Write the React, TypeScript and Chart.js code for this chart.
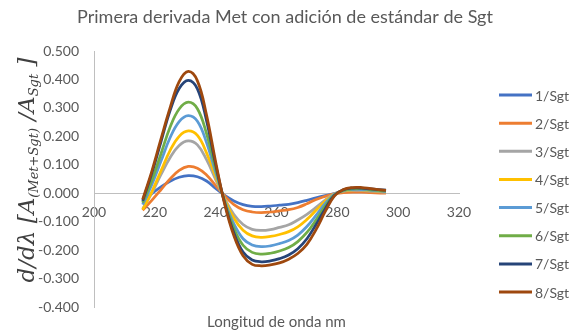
import { useEffect, useRef } from 'react';
import { Chart, registerables } from 'chart.js';

Chart.register(...registerables);

const titleText = 'Primera derivada Met con adición de estándar de Sgt';
const xAxisTitle = 'Longitud de onda nm';

const wavelengths = [216, 219, 222, 225, 228, 231, 234, 237, 240, 243, 246, 249, 252, 255, 258, 261, 264, 267, 270, 273, 276, 279, 282, 285, 288, 291, 296];

const seriesNames = ['1/Sgt', '2/Sgt', '3/Sgt', '4/Sgt', '5/Sgt', '6/Sgt', '7/Sgt', '8/Sgt'];
const seriesColors = ['#4472C4', '#ED7D31', '#A5A5A5', '#FFC000', '#5B9BD5', '#70AD47', '#264478', '#9E480E'];

const s1 = [-0.035, -0.002, 0.022, 0.042, 0.056, 0.062, 0.058, 0.043, 0.017, -0.008, -0.027, -0.040, -0.046, -0.047, -0.045, -0.042, -0.039, -0.033, -0.025, -0.016, -0.008, -0.001, 0.005, 0.008, 0.008, 0.006, 0.004];
const s2 = [-0.060, -0.025, 0.012, 0.050, 0.080, 0.094, 0.088, 0.064, 0.027, -0.010, -0.040, -0.058, -0.066, -0.068, -0.066, -0.062, -0.058, -0.050, -0.037, -0.022, -0.011, -0.002, 0.002, 0.004, 0.004, 0.002, 0.000];
const s3 = [-0.055, 0.000, 0.065, 0.125, 0.168, 0.184, 0.170, 0.118, 0.048, -0.020, -0.075, -0.110, -0.127, -0.131, -0.128, -0.120, -0.111, -0.094, -0.074, -0.050, -0.024, -0.002, 0.007, 0.010, 0.010, 0.007, 0.004];
const s4 = [-0.058, 0.005, 0.078, 0.150, 0.200, 0.219, 0.203, 0.142, 0.058, -0.022, -0.088, -0.130, -0.150, -0.155, -0.152, -0.145, -0.135, -0.118, -0.092, -0.060, -0.028, -0.003, 0.008, 0.012, 0.012, 0.009, 0.005];
const s5 = [-0.040, 0.030, 0.112, 0.195, 0.252, 0.273, 0.253, 0.178, 0.072, -0.028, -0.108, -0.160, -0.182, -0.188, -0.185, -0.177, -0.166, -0.147, -0.117, -0.078, -0.036, -0.004, 0.009, 0.013, 0.013, 0.010, 0.006];
const s6 = [-0.033, 0.045, 0.138, 0.232, 0.296, 0.320, 0.297, 0.210, 0.085, -0.032, -0.124, -0.183, -0.208, -0.214, -0.211, -0.203, -0.191, -0.170, -0.138, -0.094, -0.045, -0.006, 0.010, 0.015, 0.016, 0.012, 0.008];
const s7 = [-0.027, 0.070, 0.180, 0.290, 0.368, 0.397, 0.367, 0.255, 0.100, -0.036, -0.140, -0.207, -0.235, -0.241, -0.238, -0.230, -0.217, -0.195, -0.160, -0.110, -0.055, -0.008, 0.012, 0.018, 0.018, 0.015, 0.011];
const s8 = [-0.022, 0.077, 0.190, 0.300, 0.392, 0.428, 0.395, 0.275, 0.110, -0.040, -0.150, -0.220, -0.250, -0.255, -0.252, -0.245, -0.232, -0.212, -0.180, -0.128, -0.065, -0.010, 0.013, 0.020, 0.020, 0.016, 0.010];

const seriesValues = [s1, s2, s3, s4, s5, s6, s7, s8];

const xMin = 200;
const xMax = 320;
const xStep = 20;
const yMin = -0.4;
const yMax = 0.5;
const yStep = 0.1;

const textColor = '#595959';
const axisColor = '#BFBFBF';
const sans = 'Lato, "Open Sans", sans-serif';
const serif = '"DejaVu Serif", "Liberation Serif", serif';

const yTitlePlugin = {
  id: 'yTitlePlugin',
  afterDraw(chart: any) {
    const ctx = chart.ctx as CanvasRenderingContext2D;
    const big = `italic 23px ${serif}`;
    const small = `italic 13px ${serif}`;
    const parts = [
      { t: 'd/dλ [A', f: big, dy: 0 },
      { t: '(Met+Sgt)', f: small, dy: 4 },
      { t: ' /A', f: big, dy: 0 },
      { t: 'Sgt', f: small, dy: 4 },
      { t: ' ]', f: big, dy: 0 },
    ];
    ctx.save();
    let total = 0;
    const widths = parts.map((p) => {
      ctx.font = p.f;
      const w = ctx.measureText(p.t).width;
      total += w;
      return w;
    });
    ctx.translate(34, 170);
    ctx.rotate(-Math.PI / 2);
    ctx.fillStyle = '#404040';
    ctx.textBaseline = 'alphabetic';
    ctx.textAlign = 'left';
    let x = -total / 2;
    parts.forEach((p, i) => {
      ctx.font = p.f;
      ctx.fillText(p.t, x, p.dy);
      x += widths[i];
    });
    ctx.restore();
  },
};

const legendPlugin = {
  id: 'sideLegend',
  afterDraw(chart: any) {
    const ctx = chart.ctx as CanvasRenderingContext2D;
    ctx.save();
    ctx.font = `14px ${sans}`;
    ctx.textBaseline = 'middle';
    ctx.textAlign = 'left';
    chart.data.datasets.forEach((ds: any, i: number) => {
      const y = 95 + i * 28.15;
      ctx.strokeStyle = ds.borderColor;
      ctx.lineWidth = 3;
      ctx.beginPath();
      ctx.moveTo(499, y);
      ctx.lineTo(532, y);
      ctx.stroke();
      ctx.fillStyle = textColor;
      ctx.fillText(ds.label, 535, y + 1);
    });
    ctx.restore();
  },
};

export default function App() {
  const canvasRef = useRef<HTMLCanvasElement | null>(null);

  useEffect(() => {
    if (!canvasRef.current) return;
    const datasets = seriesNames.map((name, i) => ({
      label: name,
      data: wavelengths.map((w, j) => ({ x: w, y: seriesValues[i][j] })),
      borderColor: seriesColors[i],
      backgroundColor: seriesColors[i],
      borderWidth: 2.75,
      pointRadius: 0,
      tension: 0.4,
      fill: false,
      order: seriesNames.length - i,
    }));

    const chart = new Chart(canvasRef.current, {
      type: 'line',
      data: { datasets },
      plugins: [yTitlePlugin, legendPlugin],
      options: {
        responsive: false,
        animation: false,
        layout: { padding: { left: 0, top: 0, right: 0, bottom: 0 } },
        plugins: {
          legend: { display: false },
          tooltip: { enabled: false },
          title: {
            display: true,
            text: titleText,
            color: textColor,
            font: { family: sans, size: 18, weight: 'normal', lineHeight: 1.2 },
            padding: { top: 6.2, bottom: 23.2 },
          },
          subtitle: {
            display: true,
            text: xAxisTitle,
            position: 'bottom',
            fullSize: false,
            color: textColor,
            font: { family: sans, size: 15, weight: 'normal', lineHeight: 1.2 },
            padding: { top: 6, bottom: 0 },
          },
        },
        scales: {
          x: {
            type: 'linear',
            min: xMin,
            max: xMax,
            position: { y: 0 } as any,
            grid: { display: false, drawTicks: false },
            border: { display: true, color: axisColor, width: 1 },
            ticks: {
              stepSize: xStep,
              color: textColor,
              font: { family: sans, size: 14 },
              padding: 11,
              maxRotation: 0,
              callback: (v: any) => String(v),
            },
            afterFit: (scale: any) => {
              scale.paddingRight = 111;
            },
          },
          y: {
            type: 'linear',
            min: yMin,
            max: yMax,
            grid: { display: false, drawTicks: false },
            border: { display: true, color: axisColor, width: 1 },
            ticks: {
              stepSize: yStep,
              color: textColor,
              font: { family: sans, size: 14 },
              padding: 15,
              callback: (v: any) => {
                const n = Math.abs(Number(v)) < 1e-9 ? 0 : Number(v);
                return n.toFixed(3);
              },
            },
            afterFit: (scale: any) => {
              scale.width = 94;
            },
          },
        },
      },
    });
    return () => chart.destroy();
  }, []);

  return (
    <div style={{ position: 'absolute', left: 0, top: 0, width: 570, height: 331, background: '#ffffff' }}>
      <canvas ref={canvasRef} width={570} height={331} style={{ display: 'block' }} />
    </div>
  );
}
